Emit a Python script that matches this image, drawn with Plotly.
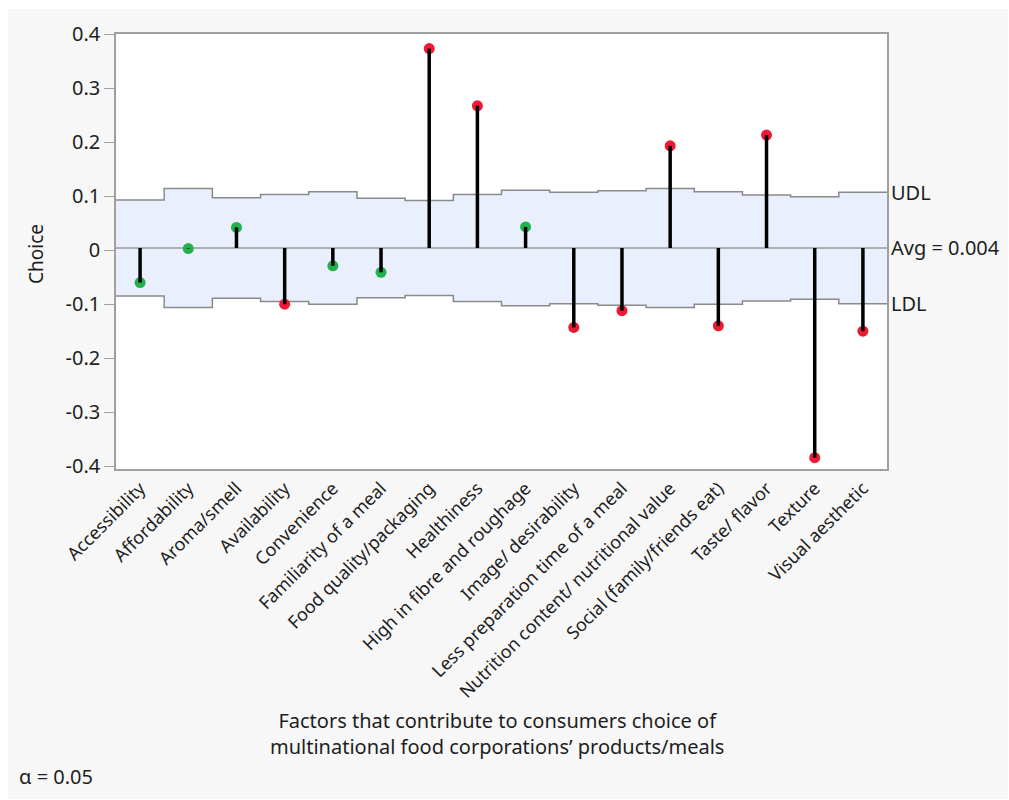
import plotly.graph_objects as go

# Analysis of means for consumer choice factors
factors = [
    "Accessibility", "Affordability", "Aroma/smell", "Availability", "Convenience",
    "Familiarity of a meal", "Food quality/packaging", "Healthiness",
    "High in fibre and roughage", "Image/ desirability", "Less preparation time of a meal",
    "Nutrition content/ nutritional value", "Social (family/friends eat)",
    "Taste/ flavor", "Texture", "Visual aesthetic",
]
choice = [-0.060, 0.003, 0.042, -0.100, -0.029, -0.041, 0.373, 0.267,
          0.043, -0.143, -0.112, 0.193, -0.140, 0.213, -0.384, -0.150]
avg = 0.004
# half-width of the decision limits for each factor
half_width = [0.089, 0.110, 0.093, 0.099, 0.104, 0.092, 0.088, 0.099,
              0.107, 0.103, 0.106, 0.110, 0.104, 0.098, 0.095, 0.103]
y_ticks = [0.4, 0.3, 0.2, 0.1, 0.0, -0.1, -0.2, -0.3, -0.4]
y_tick_text = ["0.4", "0.3", "0.2", "0.1", "0", "-0.1", "-0.2", "-0.3", "-0.4"]

FONT = "Noto Sans"
TXT = "#1e1e1e"
W, H = 1009, 800
ML, MR, MT, MB = 116, 122, 34, 331

n = len(factors)
xs = list(range(n))
udl = [avg + h for h in half_width]
ldl = [avg - h for h in half_width]
edges = [i - 0.5 for i in range(n + 1)]

fig = go.Figure()

# shaded decision band (stepped)
fig.add_trace(go.Scatter(x=edges, y=ldl + [ldl[-1]], mode="lines", line_shape="hv",
                         line=dict(color="#8a8a8a", width=1.5), hoverinfo="skip"))
fig.add_trace(go.Scatter(x=edges, y=udl + [udl[-1]], mode="lines", line_shape="hv",
                         line=dict(color="#8a8a8a", width=1.5), fill="tonexty",
                         fillcolor="#e9effc", hoverinfo="skip"))
# centre line
fig.add_trace(go.Scatter(x=[-0.5, n - 0.5], y=[avg, avg], mode="lines",
                         line=dict(color="#9a9a9a", width=1.5), hoverinfo="skip"))

# points: green inside the limits, red outside
colors = ["#23b14d" if l <= v <= u else "#ee1a34" for v, l, u in zip(choice, ldl, udl)]
fig.add_trace(go.Scatter(x=xs, y=choice, mode="markers",
                         marker=dict(color=colors, size=11, line=dict(width=0))))

# stems from the average to each point
sx, sy = [], []
for x, v in zip(xs, choice):
    sx += [x, x, None]
    sy += [avg, v, None]
fig.add_trace(go.Scatter(x=sx, y=sy, mode="lines",
                         line=dict(color="#000000", width=3.5), hoverinfo="skip"))

# panel background with thin white margin
pw = W - ML - MR
ph = H - MT - MB
def px_x(p):
    return (p - ML) / pw
def px_y(p):
    return 1 - (p - MT) / ph
fig.add_shape(type="rect", xref="paper", yref="paper", layer="below",
              x0=px_x(8), x1=px_x(1008), y0=px_y(799), y1=px_y(9),
              fillcolor="#f7f7f7", line=dict(width=0))
fig.add_shape(type="rect", xref="paper", yref="paper", layer="below",
              x0=0, x1=1, y0=0, y1=1, fillcolor="#ffffff", line=dict(width=0))

# right-hand limit labels
for label, yv in [("UDL", udl[-1]), ("Avg = 0.004", avg), ("LDL", ldl[-1])]:
    fig.add_annotation(x=1, xref="paper", y=yv, yref="y", text=label, showarrow=False,
                       xanchor="left", yanchor="middle", xshift=2,
                       font=dict(family=FONT, size=20, color=TXT))

fig.add_annotation(x=px_x(36), xref="paper", y=px_y(254), yref="paper", text="Choice",
                   textangle=-90, showarrow=False, xanchor="center", yanchor="middle",
                   font=dict(family=FONT, size=19, color=TXT))
fig.add_annotation(x=px_x(497), xref="paper", y=px_y(733), yref="paper",
                   text="Factors that contribute to consumers choice of<br>"
                        "multinational food corporations\u2019 products/meals",
                   showarrow=False, align="center", xanchor="center", yanchor="middle",
                   font=dict(family=FONT, size=20, color=TXT))
fig.add_annotation(x=px_x(17), xref="paper", y=px_y(776), yref="paper", text="\u03b1 = 0.05",
                   xanchor="left", yanchor="middle", showarrow=False,
                   font=dict(family=FONT, size=20, color=TXT))

fig.update_layout(
    width=W, height=H,
    margin=dict(l=ML, r=MR, t=MT, b=MB),
    paper_bgcolor="#ffffff", plot_bgcolor="rgba(0,0,0,0)",
    showlegend=False,
    font=dict(family=FONT, size=18, color=TXT),
)
fig.update_xaxes(range=[-0.5, n - 0.5], tickvals=xs, ticktext=factors, tickangle=-45,
                 showgrid=False, zeroline=False, showline=True, linecolor="#a0a0a0",
                 linewidth=1.5, mirror=True, ticks="", tickfont=dict(size=18))
fig.update_yaxes(range=[-0.405, 0.4], tickvals=y_ticks, ticktext=y_tick_text,
                 showgrid=False, zeroline=False, showline=True, linecolor="#a0a0a0",
                 linewidth=1.5, mirror=True, ticks="outside", ticklen=10,
                 tickcolor="#a0a0a0", tickfont=dict(size=20))

fig.write_html("out.html")
